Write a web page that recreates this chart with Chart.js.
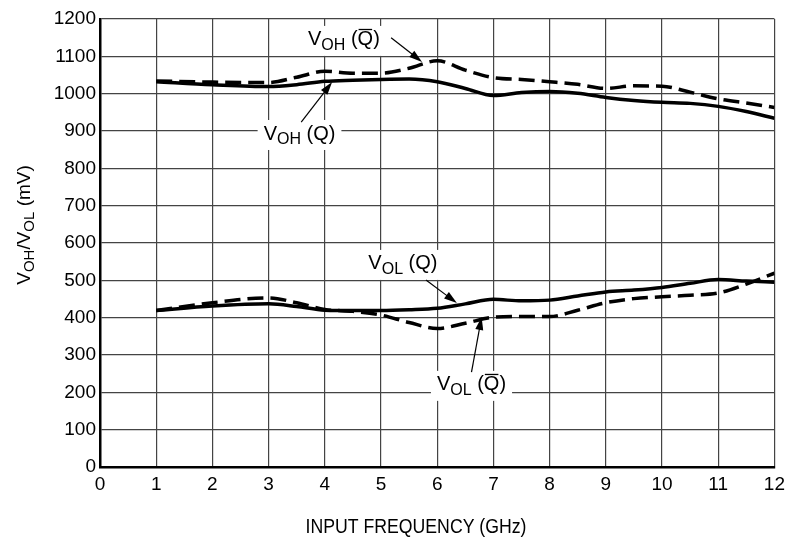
<!DOCTYPE html>
<html>
<head>
<meta charset="utf-8">
<script src="https://cdn.jsdelivr.net/npm/chart.js@4/dist/chart.umd.min.js"></script>
<style>
  body { margin: 0; background: #fff; }
  canvas { display: block; }
</style>
</head>
<body>
<canvas id="grafico" width="791" height="538"></canvas>
<script>
// valores (GHz / mV)
const freq    = [1, 2, 3, 3.5, 4, 4.5, 5, 5.5, 6, 6.5, 7, 7.5, 8, 8.5, 9, 9.5, 10, 10.5, 11, 11.5, 12]
const vohQ    = [1032, 1024, 1019, 1024, 1033, 1036, 1038, 1039, 1032, 1014, 995, 1003, 1006, 1001, 990, 982, 977, 974, 966, 952, 934]
const vohQbar = [1034, 1031, 1030, 1044, 1060, 1055, 1055, 1068, 1088, 1063, 1043, 1038, 1032, 1025, 1014, 1021, 1020, 1004, 986, 975, 963]
const volQ    = [419, 431, 437, 430, 420, 419, 419, 421, 425, 437, 449, 445, 447, 458, 469, 474, 481, 492, 502, 498, 495]
const volQbar = [419, 440, 453, 440, 422, 417, 407, 387, 371, 385, 401, 403, 403, 420, 440, 451, 456, 460, 466, 490, 519]

const FONT = "'Liberation Sans', Arial, sans-serif"
const tituloX = 'INPUT FREQUENCY (GHz)'

// etiquetas con flecha, en unidades de datos
const notas = [
  { sub: 'OH', bar: true,  x: 4.34, y: 1144, from: [5.18, 1150], to: [5.73, 1085] },
  { sub: 'OH', bar: false, x: 3.55, y: 892,  from: [3.58, 924],  to: [4.13, 1031] },
  { sub: 'OL', bar: false, x: 5.39, y: 544,  from: [5.80, 501],  to: [6.35, 439] },
  { sub: 'OL', bar: true,  x: 6.61, y: 220,  from: [6.61, 254],  to: [6.79, 402] }
]

function puntos(ys) {
  return freq.map((f, i) => ({ x: f, y: ys[i] }))
}

function serie(ys, dashed) {
  return {
    data: puntos(ys),
    borderColor: '#000',
    borderWidth: 3.5,
    borderDash: dashed ? [16, 7] : [],
    pointRadius: 0,
    tension: 0.4,
    cubicInterpolationMode: 'monotone',
    fill: false
  }
}

// dibuja "V" + subindice + " (Q)" con barra opcional
function textoV(ctx, sub, bar, cx, cy, size, measureOnly) {
  const big = size + 'px ' + FONT
  const small = Math.round(size * 0.78) + 'px ' + FONT
  ctx.font = big
  const wV = ctx.measureText('V').width
  ctx.font = small
  const wS = ctx.measureText(sub).width
  ctx.font = big
  const wP = ctx.measureText(' (').width
  const wQ = ctx.measureText('Q').width
  const wC = ctx.measureText(')').width
  const total = wV + wS + wP + wQ + wC
  if (measureOnly) return total
  let x = cx - total / 2
  ctx.fillStyle = '#000'
  ctx.textBaseline = 'middle'
  ctx.textAlign = 'left'
  ctx.font = big
  ctx.fillText('V', x, cy); x += wV
  ctx.font = small
  ctx.fillText(sub, x, cy + size * 0.3); x += wS
  ctx.font = big
  ctx.fillText(' (', x, cy); x += wP
  ctx.fillText('Q', x, cy)
  if (bar) {
    ctx.strokeStyle = '#000'
    ctx.lineWidth = 1.3
    ctx.beginPath()
    ctx.moveTo(x + 1, cy - size * 0.52)
    ctx.lineTo(x + wQ - 1, cy - size * 0.52)
    ctx.stroke()
  }
  x += wQ
  ctx.fillText(')', x, cy)
  return total
}

function flecha(ctx, x1, y1, x2, y2) {
  const ang = Math.atan2(y2 - y1, x2 - x1)
  const len = 13, wid = 4
  ctx.strokeStyle = '#000'
  ctx.lineWidth = 1.2
  ctx.beginPath()
  ctx.moveTo(x1, y1)
  ctx.lineTo(x2 - Math.cos(ang) * len * 0.8, y2 - Math.sin(ang) * len * 0.8)
  ctx.stroke()
  ctx.fillStyle = '#000'
  ctx.beginPath()
  ctx.moveTo(x2, y2)
  ctx.lineTo(x2 - Math.cos(ang) * len - Math.sin(ang) * wid, y2 - Math.sin(ang) * len + Math.cos(ang) * wid)
  ctx.lineTo(x2 - Math.cos(ang) * len + Math.sin(ang) * wid, y2 - Math.sin(ang) * len - Math.cos(ang) * wid)
  ctx.closePath()
  ctx.fill()
}

const anotaciones = {
  id: 'anotaciones',
  beforeDatasetsDraw(chart) {
    const ctx = chart.ctx
    const sx = chart.scales.x, sy = chart.scales.y
    ctx.save()
    notas.forEach(n => {
      const cx = sx.getPixelForValue(n.x), cy = sy.getPixelForValue(n.y)
      const w = textoV(ctx, n.sub, n.bar, cx, cy, 20, true)
      ctx.fillStyle = '#fff'
      ctx.fillRect(cx - w / 2 - 6, cy - 14, w + 12, 30)
      textoV(ctx, n.sub, n.bar, cx, cy, 20, false)
    })
    ctx.restore()
  },
  afterDatasetsDraw(chart) {
    const ctx = chart.ctx
    const sx = chart.scales.x, sy = chart.scales.y
    ctx.save()
    notas.forEach(n => {
      flecha(ctx,
        sx.getPixelForValue(n.from[0]), sy.getPixelForValue(n.from[1]),
        sx.getPixelForValue(n.to[0]), sy.getPixelForValue(n.to[1]))
    })

    // titulo eje X, algo angosto como en el original
    ctx.save()
    ctx.font = '20px ' + FONT
    const wx = ctx.measureText(tituloX).width
    ctx.translate(416, 527)
    ctx.scale(221 / wx, 1)
    ctx.fillStyle = '#000'
    ctx.textAlign = 'center'
    ctx.textBaseline = 'middle'
    ctx.fillText(tituloX, 0, 0)
    ctx.restore()

    // titulo eje Y con subindices
    ctx.translate(25, 225)
    ctx.rotate(-Math.PI / 2)
    const big = '19px ' + FONT, small = '15px ' + FONT
    const partes = [['V', big, 0], ['OH', small, 5], ['/V', big, 0], ['OL', small, 5], [' (mV)', big, 0]]
    let total = 0
    partes.forEach(p => { ctx.font = p[1]; total += ctx.measureText(p[0]).width })
    let x = -total / 2
    ctx.fillStyle = '#000'
    ctx.textBaseline = 'middle'
    ctx.textAlign = 'left'
    partes.forEach(p => {
      ctx.font = p[1]
      ctx.fillText(p[0], x, p[2])
      x += ctx.measureText(p[0]).width
    })
    ctx.restore()
  }
}

const canvas = document.getElementById('grafico')
const grafico = new Chart(canvas, {
  type: 'line',
  data: {
    datasets: [
      serie(vohQ, false),
      serie(vohQbar, true),
      serie(volQ, false),
      serie(volQbar, true)
    ]
  },
  options: {
    responsive: false,
    animation: false,
    layout: { padding: { left: 40, top: 19, right: 14, bottom: 0 } },
    plugins: { legend: { display: false }, tooltip: { enabled: false } },
    scales: {
      x: {
        type: 'linear',
        min: 0, max: 12,
        afterFit: (s) => { s.height = 71 },
        ticks: { stepSize: 1, color: '#000', font: { family: FONT, size: 19 }, padding: 6, callback: (v) => String(v) },
        grid: { color: '#444', lineWidth: 1.2, drawTicks: false },
        border: { color: '#000', width: 2.5 }
      },
      y: {
        min: 0, max: 1200,
        afterFit: (s) => { s.width = 60 },
        ticks: { stepSize: 100, color: '#000', font: { family: FONT, size: 19 }, padding: 4, callback: (v) => String(v) },
        grid: { color: '#444', lineWidth: 1.2, drawTicks: false },
        border: { color: '#000', width: 2.5 }
      }
    }
  },
  plugins: [anotaciones]
})
</script>
</body>
</html>
